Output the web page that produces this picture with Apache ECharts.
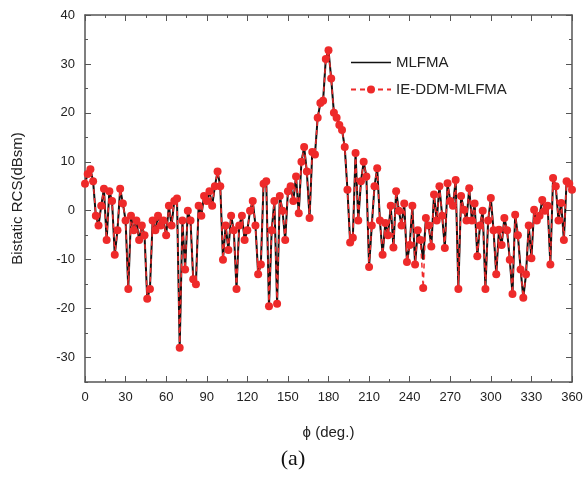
<!DOCTYPE html>
<html>
<head>
<meta charset="utf-8">
<script src="https://cdn.jsdelivr.net/npm/echarts@6/dist/echarts.min.js"></script>
<style>
html,body{margin:0;padding:0;background:#fff;}
#c{width:586px;height:477px;}
</style>
</head>
<body>
<div id="c"></div>
<script>
var phi = [0,2,4,6,8,10,12,14,16,18,20,22,24,26,28,30,32,34,36,38,40,42,44,46,48,50,52,54,56,58,60,62,64,66,68,70,72,74,76,78,80,82,84,86,88,90,92,94,96,98,100,102,104,106,108,110,112,114,116,118,120,122,124,126,128,130,132,134,136,138,140,142,144,146,148,150,152,154,156,158,160,162,164,166,168,170,172,174,176,178,180,182,184,186,188,190,192,194,196,198,200,202,204,206,208,210,212,214,216,218,220,222,224,226,228,230,232,234,236,238,240,242,244,246,248,250,252,254,256,258,260,262,264,266,268,270,272,274,276,278,280,282,284,286,288,290,292,294,296,298,300,302,304,306,308,310,312,314,316,318,320,322,324,326,328,330,332,334,336,338,340,342,344,346,348,350,352,354,356,358,360];

var mlfma = [5.5,7.5,8.5,6,-1,-3,1,4.5,-6,4,2,-9,-4,4.5,1.5,-2,-16,-1,-4,-2,-6,-3,-5,-18,-16,-2,-4,-1,-3,-2,-5,1,-3,2,2.5,-28,-2,-12,0,-2,-14,-15,1,-1,3,2,4,1,5,8,5,-10,-3,-8,-1,-4,-16,-3,-1,-6,-4,0,2,-3,-13,-11,5.5,6,-19.5,-4,2,-19,3,0,-6,4,5,2,7,-0.5,10,13,8,-1.5,12,11.5,19,22,22.5,31,32.8,27,20,19,17.5,16.5,13,4.3,-6.5,-5.5,11.8,-2,6,10,7,-11.5,-3,5,8.7,-2,-9,-2.5,-5,1,-7.5,4,0,-3,1.5,-10.5,-7,1,-11,-4,-6,-10,-1.5,-3,-7.3,3.3,-2,5,-1,-7.6,5.6,2,1,6.3,-16,3,0.2,-2,4.6,-2,1.5,-9.3,-3,0,-16,-2,2.6,-4,-13,-3.9,-7,-1.5,-4,-10,-17,-0.8,-5,-12,-17.8,-13,-3,-9.7,0.2,-2,-1,2.2,0,1,-11,6.7,5,-2,1.6,-6,6,5.5,4.3];

var ieddm = [5.5,7.5,8.5,6,-1,-3,1,4.5,-6,4,2,-9,-4,4.5,1.5,-2,-16,-1,-4,-2,-6,-3,-5,-18,-16,-2,-4,-1,-3,-2,-5,1,-3,2,2.5,-28,-2,-12,0,-2,-14,-15,1,-1,3,2,4,1,5,8,5,-10,-3,-8,-1,-4,-16,-3,-1,-6,-4,0,2,-3,-13,-11,5.5,6,-19.5,-4,2,-19,3,0,-6,4,5,2,7,-0.5,10,13,8,-1.5,12,11.5,19,22,22.5,31,32.8,27,20,19,17.5,16.5,13,4.3,-6.5,-5.5,11.8,-2,6,10,7,-11.5,-3,5,8.7,-2,-9,-2.5,-5,1,-7.5,4,0,-3,1.5,-10.5,-7,1,-11,-4,-6,-15.8,-1.5,-3,-7.3,3.3,-2,5,-1,-7.6,5.6,2,1,6.3,-16,3,0.2,-2,4.6,-2,1.5,-9.3,-3,0,-16,-2,2.6,-4,-13,-3.9,-7,-1.5,-4,-10,-17,-0.8,-5,-12,-17.8,-13,-3,-9.7,0.2,-2,-1,2.2,0,1,-11,6.7,5,-2,1.6,-6,6,5.5,4.3];

var xTicks = [0,30,60,90,120,150,180,210,240,270,300,330,360];
var yMajor = [-30,-20,-10,0,10,20,30,40];

function pairs(xs, ys){ var out=[]; for(var i=0;i<xs.length;i++){ out.push([xs[i], ys[i]]); } return out; }

var axisCol = '#555';
var chart = echarts.init(document.getElementById('c'), null, {renderer:'canvas'});
var yBase = {type:'value', min:-35, max:40, interval:5, splitLine:{show:false}};
chart.setOption({
  animation:false,
  backgroundColor:'#fff',
  grid:{left:85, right:14, top:15, bottom:95, containLabel:false},
  legend:{
    orient:'vertical', left:345, top:50, itemWidth:40, itemHeight:10, itemGap:12,
    textStyle:{fontFamily:'Liberation Sans, Arial', fontSize:15, color:'#222'},
    data:[{name:'MLFMA', icon:'path://M0,4.2 L40,4.2 L40,5.8 L0,5.8 Z', itemStyle:{color:'#111'}},
          'IE-DDM-MLFMA']
  },
  xAxis:[
    {type:'value', min:0, max:360, interval:30, position:'bottom',
     name:'\u03d5 (deg.)', nameLocation:'middle', nameGap:43,
     nameTextStyle:{fontFamily:'Liberation Sans, Arial', fontSize:15, color:'#222'},
     axisLine:{show:true, onZero:false, lineStyle:{color:axisCol, width:1.5}},
     axisTick:{show:true, inside:true, length:6, lineStyle:{color:axisCol}},
     minorTick:{show:true, splitNumber:2, length:3, lineStyle:{color:axisCol}},
     axisLabel:{fontFamily:'Liberation Sans, Arial', fontSize:13, color:'#222', margin:9},
     splitLine:{show:false}},
    {type:'value', min:0, max:360, interval:30, position:'top',
     axisLine:{show:true, onZero:false, lineStyle:{color:axisCol, width:1.5}},
     axisTick:{show:true, inside:true, length:6, lineStyle:{color:axisCol}},
     minorTick:{show:true, splitNumber:2, length:3, lineStyle:{color:axisCol}},
     axisLabel:{show:false}, splitLine:{show:false}}
  ],
  yAxis:[
    Object.assign({}, yBase, {position:'left',
     name:'Bistatic RCS(dBsm)', nameLocation:'middle', nameGap:60, nameRotate:90,
     nameTextStyle:{fontFamily:'Liberation Sans, Arial', fontSize:15, color:'#222'},
     axisLine:{show:true, onZero:false, lineStyle:{color:axisCol, width:1.5}},
     axisTick:{show:true, inside:true, length:3, lineStyle:{color:axisCol}},
     axisLabel:{fontFamily:'Liberation Sans, Arial', fontSize:13, color:'#222', margin:10,
       formatter:function(v){ return (v % 10 === 0) ? String(v) : ''; }}}),
    Object.assign({}, yBase, {position:'left',
     axisLine:{show:false, onZero:false},
     axisTick:{show:true, inside:true, length:6, customValues:yMajor, lineStyle:{color:axisCol}},
     axisLabel:{show:false}}),
    Object.assign({}, yBase, {position:'right',
     axisLine:{show:true, onZero:false, lineStyle:{color:axisCol, width:1.5}},
     axisTick:{show:true, inside:true, length:3, lineStyle:{color:axisCol}},
     axisLabel:{show:false}}),
    Object.assign({}, yBase, {position:'right',
     axisLine:{show:false, onZero:false},
     axisTick:{show:true, inside:true, length:6, customValues:yMajor, lineStyle:{color:axisCol}},
     axisLabel:{show:false}})
  ],
  graphic:[{type:'text', left:'center', top:448,
    style:{text:'(a)', font:'22px "Liberation Serif", "Times New Roman", serif', fill:'#111'}}],
  series:[
    {name:'MLFMA', type:'line', data:pairs(phi, mlfma), showSymbol:false, symbol:'none',
     lineStyle:{color:'#111', width:2}, itemStyle:{color:'#111'}, z:2},
    {name:'IE-DDM-MLFMA', type:'line', data:pairs(phi, ieddm), symbol:'circle', symbolSize:8,
     lineStyle:{color:'#ee2a2a', width:1.5, type:[5,4]}, itemStyle:{color:'#ee2a2a'}, z:3}
  ]
});
</script>
</body>
</html>
